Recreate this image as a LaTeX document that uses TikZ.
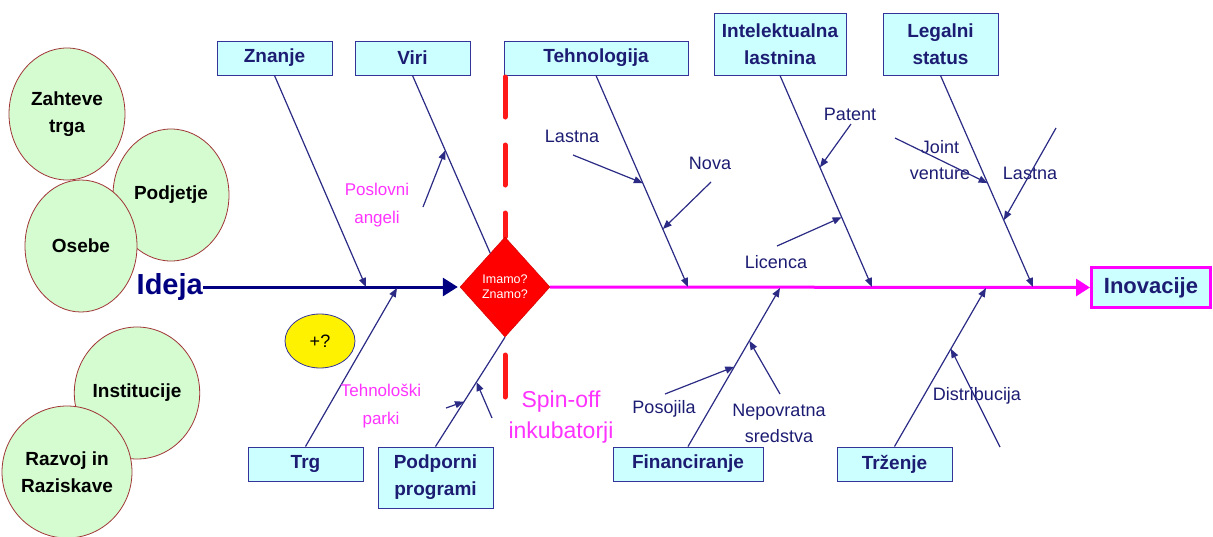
\documentclass[tikz,border=0pt]{standalone}
\usepackage{fontspec}
\setmainfont{Liberation Sans}
\usetikzlibrary{shapes.geometric,arrows.meta,calc}

\definecolor{boxfill}{HTML}{CCFFFF}
\definecolor{boxline}{HTML}{333399}
\definecolor{navytext}{HTML}{1C1C73}
\definecolor{bone}{HTML}{2B2B85}
\definecolor{spine}{HTML}{000080}
\definecolor{circfill}{HTML}{D4FCD0}
\definecolor{circline}{HTML}{A03535}
\definecolor{pinkline}{HTML}{FF00FF}
\definecolor{pinktext}{HTML}{FF33FF}
\definecolor{reddash}{HTML}{FF1A1A}

\begin{document}
\begin{tikzpicture}[x=1pt,y=-1pt,
  catbox/.style={draw=boxline, fill=boxfill, line width=1pt, text=navytext,
    font=\bfseries\fontsize{19}{27}\selectfont, align=center,
    minimum height=34pt, inner sep=0pt},
  circ/.style={ellipse, draw=circline, fill=circfill, line width=0.8pt,
    minimum width=116pt, minimum height=132pt, inner sep=0pt, align=center,
    font=\bfseries\fontsize{19}{27}\selectfont},
  bonearrow/.style={draw=bone, line width=1.2pt, -{Triangle[length=9pt,width=7pt]}},
  boneline/.style={draw=bone, line width=1.2pt},
  lbl/.style={text=navytext, font=\fontsize{18}{26}\selectfont, align=center, inner sep=0pt},
  pinklbl/.style={text=pinktext, font=\fontsize{17}{28}\selectfont, align=center, inner sep=0pt}
]
\useasboundingbox (0,0) rectangle (1213,536);

% circles of idea sources
\node[circ] (zahteve) at (67,114) {Zahteve\\trga};
\node[circ] (podjetje) at (171,195) {Podjetje};
\node[circ, minimum width=112pt] (osebe) at (81,246) {Osebe};
\node[circ] (institucije) at (137,393) {Institucije};
\node[circ] (razvoj) at (67,472) {Razvoj in\\Raziskave};

% category boxes
\node[catbox, minimum width=115pt] (znanje) at (274.5,58) {Znanje};
\node[catbox, minimum width=115pt] (viri) at (412.5,58) {Viri};
\node[catbox, minimum width=184pt] (teh) at (596,58) {Tehnologija};
\node[catbox, minimum width=132pt, minimum height=62pt] (intel) at (780,44) {Intelektualna\\lastnina};
\node[catbox, minimum width=115pt, minimum height=62pt] (legal) at (940.5,44) {Legalni\\status};
\node[catbox, minimum width=115pt] (trg) at (305.5,464) {Trg};
\node[catbox, minimum width=115pt, minimum height=61pt] (podp) at (435.5,477.5) {Podporni\\programi};
\node[catbox, minimum width=150pt] (fin) at (688,464) {Financiranje};
\node[catbox, minimum width=115pt] (trz) at (894.5,464) {Trženje};

\node[draw=pinkline, line width=3pt, fill=boxfill, text=navytext,
  font=\bfseries\fontsize{22}{26}\selectfont, minimum width=119pt,
  minimum height=40pt, inner sep=0pt] (inov) at (1151,287.5) {Inovacije};

% start of the spine
\node[text=spine, font=\bfseries\fontsize{29}{32}\selectfont, inner sep=0pt, anchor=east] (ideja) at (203,287) {Ideja};

% red dashed separation line
\coordinate (dtop) at (505,77);
\coordinate (dlo1) at (505,355);
\coordinate (dlo2) at (505,397);
\node[diamond, minimum width=90pt, minimum height=100pt, inner sep=0pt] (dia) at (505,287) {};
\draw[reddash, line width=5pt, line cap=round, dash pattern=on 40pt off 28pt] (dtop) -- (dia.north);
\draw[reddash, line width=5pt, line cap=round] (dlo1) -- (dlo2);

% decision diamond
\node[diamond, draw=red!80!black, fill=red, minimum width=90pt, minimum height=100pt,
  inner sep=0pt, text=white, align=center, font=\fontsize{12.5}{17}\selectfont] (dia) at (505,287) {Imamo?\\[-2pt]Znamo?};

% main spine
\draw[spine, line width=3pt, -{Triangle[length=15pt,width=18pt]}, shorten >=2pt] (ideja.east) -- (dia.west);
\draw[pinkline, line width=3pt, -{Triangle[length=14pt,width=17pt]}] (dia.east) -- (inov.west);

% bone end points on the spine
\coordinate (zn-end) at (366,287);
\coordinate (teh-end) at (688,287);
\coordinate (intel-end) at (872,287);
\coordinate (legal-end) at (1033,287);
\coordinate (trg-end) at (397,288);
\coordinate (fin-end) at (780,288);
\coordinate (trz-end) at (986,288);

% bones
\draw[bonearrow] (znanje.south) -- (zn-end);
\draw[boneline] (viri.south) -- (dia);
\draw[bonearrow] (teh.south) -- (teh-end);
\draw[bonearrow] (intel.south) -- (intel-end);
\draw[bonearrow] (legal.south) -- (legal-end);
\draw[bonearrow] (trg.north) -- (trg-end);
\draw[boneline] (podp.north) -- (dia.south);
\draw[bonearrow] (fin.north) -- (fin-end);
\draw[bonearrow] (trz.north) -- (trz-end);

% "+?" bubble
\node[ellipse, draw=boxline, fill=yellow, line width=0.8pt, minimum width=70pt,
  minimum height=54pt, inner sep=0pt, font=\fontsize{18}{20}\selectfont] (plus) at (320,341) {+?};

% sub-cause labels
\node[lbl] (l-lastna) at (572,136) {Lastna};
\node[lbl] (l-nova) at (710,163) {Nova};
\node[lbl] (l-patent) at (850,114) {Patent};
\node[lbl] (l-licenca) at (776,262) {Licenca};
\node[lbl] (l-joint) at (940,160) {Joint\\venture};
\node[lbl] (l-lastna2) at (1030,173) {Lastna};
\node[lbl] (l-posojila) at (664,409) {Posojila};
\node[lbl] (l-nepovratna) at (779,423) {Nepovratna\\sredstva};
\node[lbl] (l-distr) at (977,396) {Distribucija};
\node[pinklbl] (l-poslovni) at (377,205) {Poslovni\\angeli};
\node[pinklbl] (l-parki) at (381,406) {Tehnološki\\parki};
\node[pinklbl, font=\fontsize{23}{31}\selectfont] (l-spin) at (561,417) {Spin-off\\inkubatorji};

% free ends of the sub-cause arrows
\coordinate (t-lastna) at (573,155);
\coordinate (t-nova) at (711,182);
\coordinate (t-patent) at (851,124);
\coordinate (t-licenca) at (777,246);
\coordinate (t-joint) at (895,138);
\coordinate (t-lastna2) at (1056,128);
\coordinate (t-poslovni) at (423,207);
\coordinate (t-parki) at (446,408);
\coordinate (t-spin) at (492,418);
\coordinate (t-posojila) at (665,394);
\coordinate (t-nepovratna) at (780,394);
\coordinate (t-distr) at (1000,447);

% sub-cause arrows onto the bones
\draw[bonearrow] (t-lastna) -- ($(teh.south)!0.509!(teh-end)$);
\draw[bonearrow] (t-nova) -- ($(teh.south)!0.726!(teh-end)$);
\draw[bonearrow] (t-patent) -- ($(intel.south)!0.434!(intel-end)$);
\draw[bonearrow] (t-licenca) -- ($(intel.south)!0.67!(intel-end)$);
\draw[bonearrow] (t-joint) -- ($(legal.south)!0.509!(legal-end)$);
\draw[bonearrow] (t-lastna2) -- ($(legal.south)!0.684!(legal-end)$);
\draw[bonearrow] (t-poslovni) -- ($(viri.south)!0.354!(dia.center)$);
\draw[bonearrow] (t-parki) -- ($(podp.north)!0.41!(dia.south)$);
\draw[bonearrow] (t-spin) -- ($(podp.north)!0.59!(dia.south)$);
\draw[bonearrow] (t-posojila) -- ($(fin.north)!0.503!(fin-end)$);
\draw[bonearrow] (t-nepovratna) -- ($(fin.north)!0.667!(fin-end)$);
\draw[bonearrow] (t-distr) -- ($(trz.north)!0.616!(trz-end)$);
\end{tikzpicture}
\end{document}
